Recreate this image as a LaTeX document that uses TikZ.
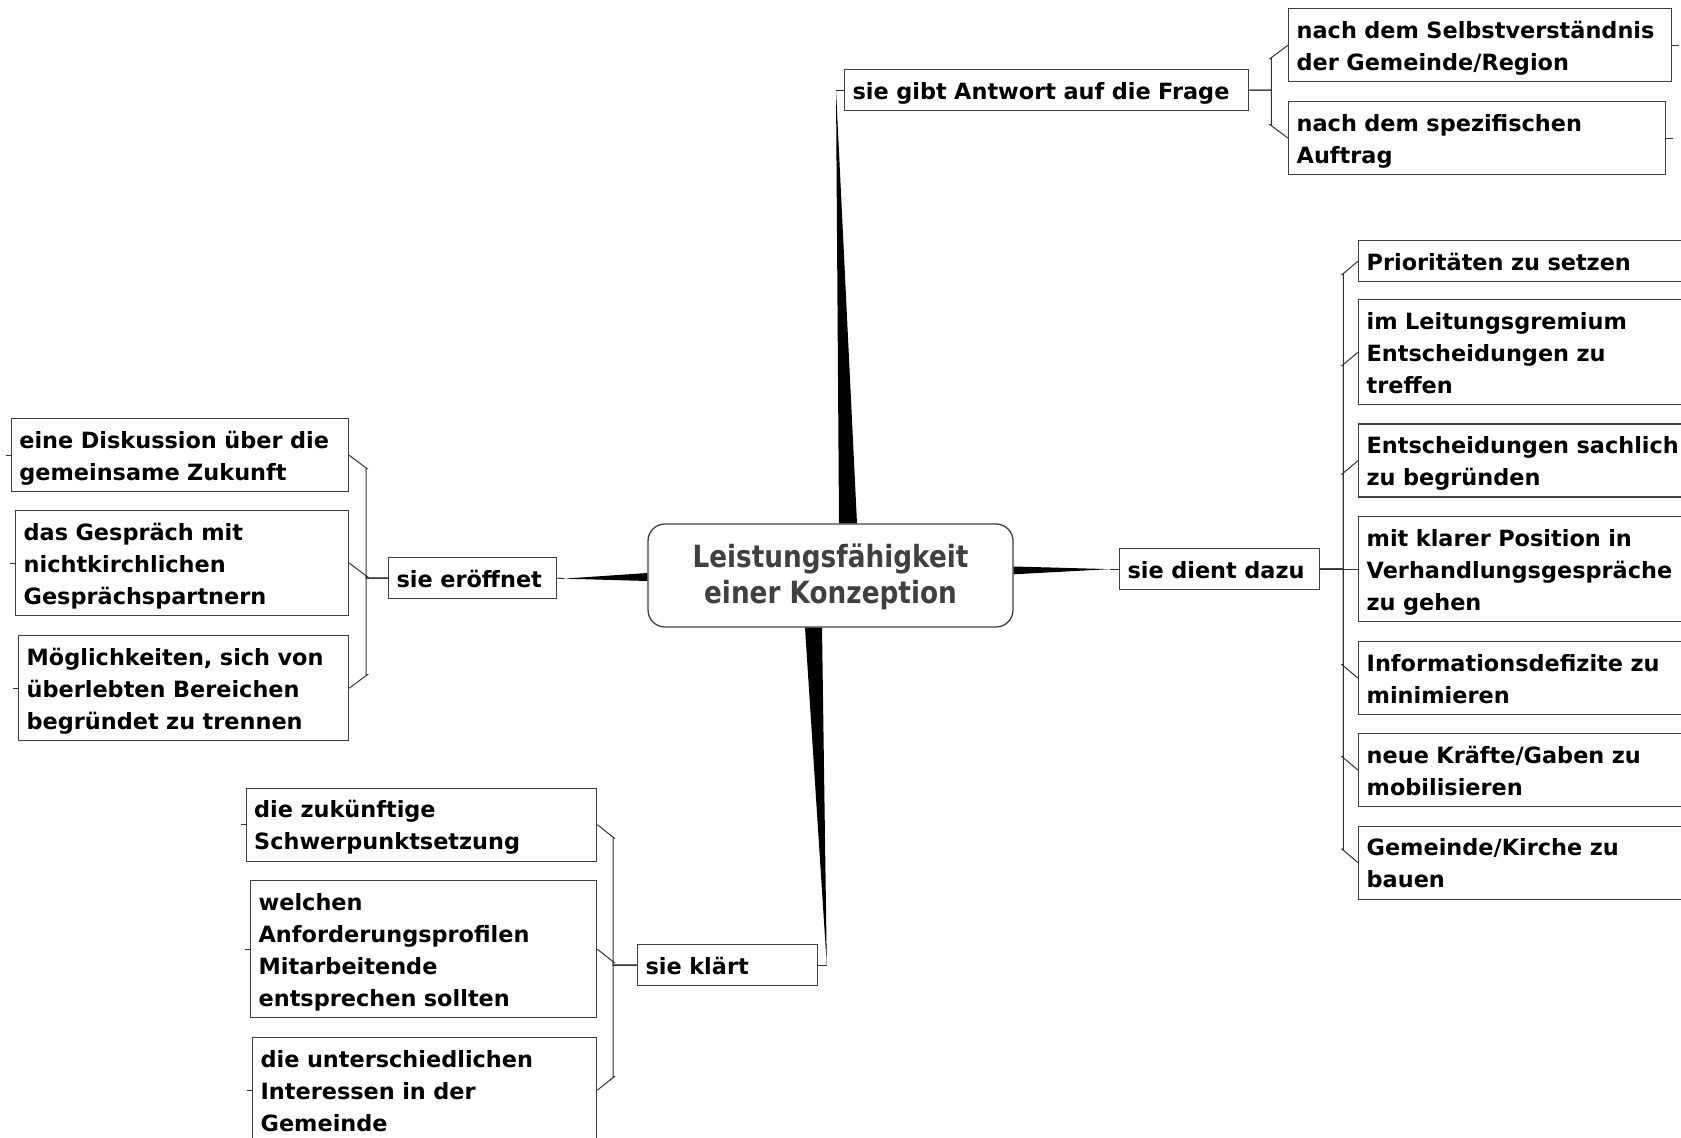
\documentclass[tikz,border=0pt]{standalone}
\usepackage{fontspec}
\setmainfont{DejaVu Sans}
\newfontfamily\kernfont{DejaVu Sans}[FakeStretch=0.86,BoldFeatures={FakeStretch=0.86}]
\usepackage{tikz}
\usetikzlibrary{calc}
\newcommand{\obenstrut}{\rule{0pt}{12.6pt}}
\newcommand{\untenstrut}{\rule[-3.4pt]{0pt}{3.4pt}}

\begin{document}
\begin{tikzpicture}[x=0.5pt,y=-0.5pt,
	topic/.style={draw=black!75,line width=0.65pt,fill=white,anchor=north west,align=left,
		inner xsep=4pt,inner ysep=2.25pt,font=\bfseries\fontsize{11.2}{16}\selectfont,
		execute at begin node=\obenstrut,execute at end node=\untenstrut},
	twig/.style={draw=black!80,line width=0.5pt},
	wedge/.style={fill=black}]
\useasboundingbox (0,0) rectangle (1681,1138);
\clip (0,0) rectangle (1681,1138);

%Zentrum
\node[draw=black!75,line width=0.65pt,rounded corners=8.5pt,minimum width=182.5pt,minimum height=51.5pt,
	align=center,text=black!75,font=\kernfont\bfseries\fontsize{15.3}{18}\selectfont] (K) at (830.5,575.5) {\rule{0pt}{13.5pt}Leistungsfähigkeit\\einer Konzeption};

\begin{scope} %Ast oben
	\node[topic,text width=194pt] (T) at (844,69) {sie gibt Antwort auf die Frage};
	\node[topic,text width=183.5pt] (T1) at (1288,8) {nach dem Selbstverständnis\\der Gemeinde/Region};
	\node[topic,text width=180.5pt] (T2) at (1288,101) {nach dem spezifischen\\Auftrag};
	\fill[wedge] ($(K.north)+(8.5,0)$) -- ($(K.north)+(26.5,0)$) -- ($(T.west)+(-8,0)$) -- cycle;
	\draw[twig] ($(T.west)+(-8,0)$) -- (T.west);
	\foreach \c/\s in {T1/1,T2/-1}
		\draw[twig] (T.east) -- ++(22,0) |- ($(\c.west)+(-18,13.5*\s)$) -- (\c.west);
	\foreach \c in {T1,T2}
		\draw[twig] (\c.east) -- ++(7,0);
\end{scope}

\begin{scope} %Ast rechts
	\node[topic,text width=92pt] (R) at (1119,548) {sie dient dazu};
	\node[topic,text width=163pt] (R1) at (1358,240) {Prioritäten zu setzen};
	\node[topic,text width=163pt] (R2) at (1358,299) {im Leitungsgremium\\Entscheidungen zu\\treffen};
	\node[topic,text width=163pt] (R3) at (1358,423.5) {Entscheidungen sachlich\\zu begründen};
	\node[topic,text width=163pt] (R4) at (1358,516) {mit klarer Position in\\Verhandlungsgespräche\\zu gehen};
	\node[topic,text width=163pt] (R5) at (1358,641) {Informationsdefizite zu\\minimieren};
	\node[topic,text width=163pt] (R6) at (1358,733) {neue Kräfte/Gaben zu\\mobilisieren};
	\node[topic,text width=163pt] (R7) at (1358,825.5) {Gemeinde/Kirche zu\\bauen};
	\fill[wedge] ($(K.east)+(0,-9)$) -- ($(K.east)+(0,-1.2)$) -- ($(R.west)+(-9,0)$) -- cycle;
	\draw[twig] ($(R.west)+(-9,0)$) -- (R.west);
	\foreach \c/\s in {R1/1,R2/1,R3/1,R5/-1,R6/-1,R7/-1}
		\draw[twig] (R.east) -- ++(23,0) |- ($(\c.west)+(-16,13.5*\s)$) -- (\c.west);
	\draw[twig] (R.east) -- (R4.west);
\end{scope}

\begin{scope} %Ast links
	\node[topic,text width=76pt] (L) at (388,557) {sie eröffnet};
	\node[topic,text width=160.5pt] (L1) at (10.7,418) {eine Diskussion über die\\gemeinsame Zukunft};
	\node[topic,text width=158.5pt] (L2) at (15,510) {das Gespräch mit\\nichtkirchlichen\\Gesprächspartnern};
	\node[topic,text width=157pt] (L3) at (18,635) {Möglichkeiten, sich von\\überlebten Bereichen\\begründet zu trennen};
	\fill[wedge] ($(K.west)+(0,-2.5)$) -- ($(K.west)+(0,5.5)$) -- ($(L.east)+(7,0.5)$) -- cycle;
	\draw[twig] ($(L.east)+(7,0.5)$) -- (L.east);
	\foreach \c/\s in {L1/1,L2/1,L3/-1}
		\draw[twig] (L.west) -- ++(-22,0) |- ($(\c.east)+(18,13.5*\s)$) -- (\c.east);
\end{scope}

\begin{scope} %Ast unten
	\node[topic,text width=82pt] (B) at (637,944) {sie klärt};
	\node[topic,text width=167.25pt] (B1) at (245.5,787.5) {die zukünftige\\Schwerpunktsetzung};
	\node[topic,text width=165pt] (B2) at (250,880) {welchen\\Anforderungsprofilen\\Mitarbeitende\\entsprechen sollten};
	\node[topic,text width=164pt] (B3) at (252,1037) {die unterschiedlichen\\Interessen in der\\Gemeinde};
	\fill[wedge] ($(K.south)+(-25.5,0)$) -- ($(K.south)+(-8.5,0)$) -- ($(B.east)+(8.5,0)$) -- cycle;
	\draw[twig] ($(B.east)+(8.5,0)$) -- (B.east);
	\foreach \c/\s in {B1/1,B2/1,B3/-1}
		\draw[twig] (B.west) -- ++(-24,0) |- ($(\c.east)+(17,13.5*\s)$) -- (\c.east);
\end{scope}

%kleine Enden
\foreach \c in {L1,L2,L3,B1,B2,B3}
	\draw[twig] (\c.west) -- ++(-5,0);
\end{tikzpicture}
\end{document}
